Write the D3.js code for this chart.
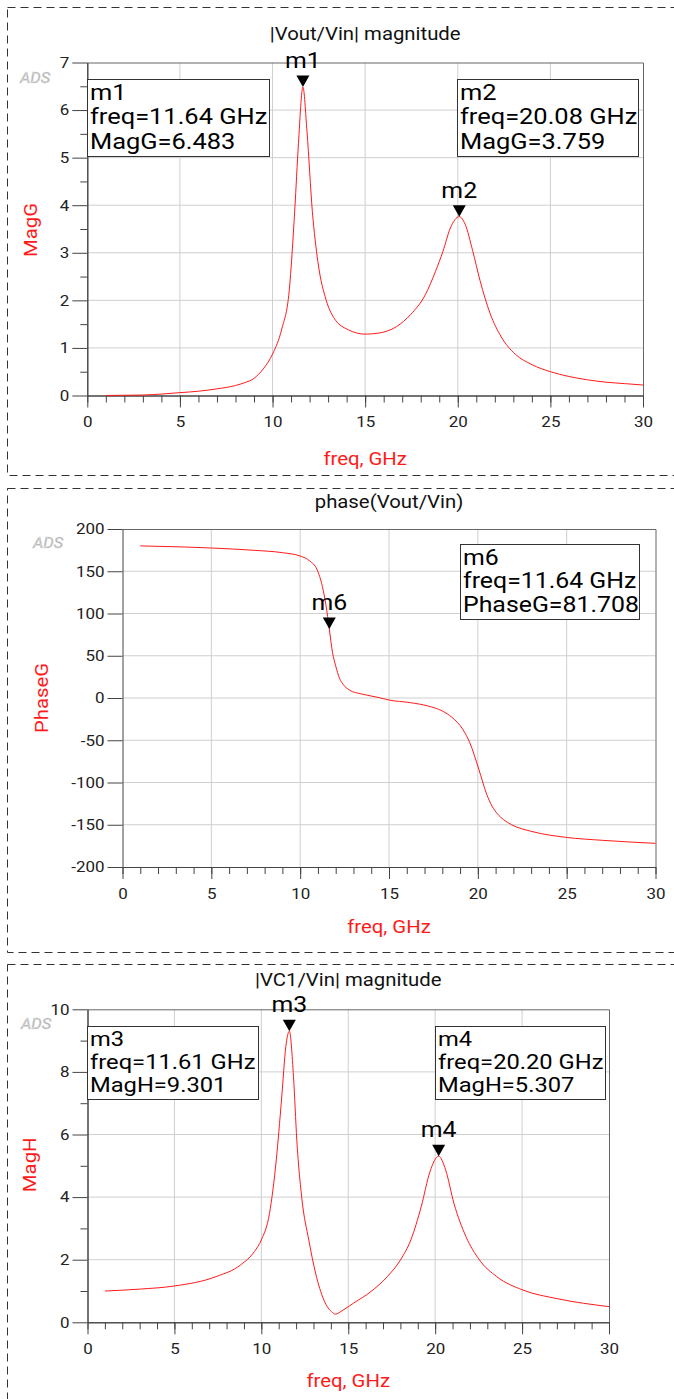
<!DOCTYPE html>
<html>
<head>
<meta charset="utf-8">
<script src="https://cdn.jsdelivr.net/npm/d3@7"></script>
<style>
  body { margin: 0; background: #fff; }
  svg { display: block; font-family: Roboto, sans-serif; }
</style>
</head>
<body>
<svg id="chart" width="674" height="1399"></svg>
<script>
// ---- data ----
// |Vout/Vin| magnitude
const freqG = [1, 2, 3, 4, 5, 6, 7, 8, 8.5, 9, 9.5, 10, 10.5, 10.9, 11.2, 11.4, 11.64, 11.86, 12.15, 12.45, 12.9, 13.3, 14.1, 15.0, 15.7, 16.7, 17.45, 18.25, 18.8, 19.2, 19.6, 20.08, 20.4, 20.8, 21.2, 21.75, 22.35, 23.1, 24, 25, 26, 27, 28, 29, 30];
const magG = [0.0, 0.005, 0.01, 0.03, 0.06, 0.09, 0.14, 0.21, 0.27, 0.36, 0.56, 0.87, 1.40, 2.20, 3.90, 5.30, 6.483, 5.55, 3.87, 2.81, 2.00, 1.64, 1.38, 1.29, 1.31, 1.45, 1.70, 2.12, 2.61, 3.03, 3.52, 3.759, 3.60, 3.05, 2.42, 1.72, 1.23, 0.87, 0.65, 0.50, 0.40, 0.33, 0.28, 0.25, 0.22];

// phase(Vout/Vin)
const freqP = [1, 3.5, 5, 7.4, 9, 10, 10.55, 10.95, 11.25, 11.45, 11.64, 11.82, 12.0, 12.2, 12.35, 12.5, 12.7, 12.95, 13.3, 14.45, 15, 16.2, 17.2, 18, 18.55, 19.15, 19.55, 20.05, 20.5, 20.8, 21.1, 21.45, 21.9, 23.05, 25, 27, 30];
const phaseG = [180, 178.7, 177.5, 174.8, 172, 168, 162, 152, 132, 110, 81.708, 54, 38, 24, 18, 14, 10.5, 7.5, 5.5, 0.4, -2.4, -5.5, -9.5, -15.4, -23, -37, -53, -84, -114, -128, -137, -144, -150, -158, -165, -168.4, -172];

// |VC1/Vin| magnitude
const freqH = [1, 3, 5, 7.4, 8.8, 9.6, 10, 10.47, 10.86, 11.16, 11.41, 11.61, 11.85, 12.04, 12.34, 12.73, 13.12, 13.6, 14.1, 14.25, 14.7, 15.3, 16.3, 17.25, 18, 18.6, 19.2, 19.7, 20.2, 20.6, 21.08, 21.77, 22.55, 23.54, 25.05, 27.07, 30];
const magH = [1.0, 1.06, 1.16, 1.46, 1.83, 2.26, 2.63, 3.48, 5.19, 7.10, 8.81, 9.301, 7.85, 5.83, 3.91, 2.63, 1.57, 0.71, 0.31, 0.26, 0.39, 0.61, 0.98, 1.46, 1.99, 2.63, 3.70, 4.81, 5.307, 4.87, 3.80, 2.74, 1.99, 1.46, 1.03, 0.75, 0.50];

// ticks
const freqTicks = [0, 5, 10, 15, 20, 25, 30];
const freqMinor = d3.range(0, 31, 1);
const magGTicks = [0, 1, 2, 3, 4, 5, 6, 7];
const magGMinor = d3.range(0.5, 7, 1);
const phaseTicks = [-200, -150, -100, -50, 0, 50, 100, 150, 200];
const magHTicks = [0, 2, 4, 6, 8, 10];
const magHMinor = [1, 3, 5, 7, 9];

// markers
const markersG = [{name: "m1", freq: 11.64, val: 6.483, label: "MagG=6.483", fl: "freq=11.64 GHz"},
                  {name: "m2", freq: 20.08, val: 3.759, label: "MagG=3.759", fl: "freq=20.08 GHz"}];
const markersP = [{name: "m6", freq: 11.64, val: 81.708, label: "PhaseG=81.708", fl: "freq=11.64 GHz"}];
const markersH = [{name: "m3", freq: 11.61, val: 9.301, label: "MagH=9.301", fl: "freq=11.61 GHz"},
                  {name: "m4", freq: 20.20, val: 5.307, label: "MagH=5.307", fl: "freq=20.20 GHz"}];

const SX = 1.13; // the ADS font is a bit wider than Roboto
const svg = d3.select("#chart");

function txt(g, x, y, s, size, opts = {}) {
  const rot = opts.rotate ? ` rotate(${opts.rotate})` : "";
  return g.append("text")
    .attr("transform", `translate(${x},${y})${rot} scale(${SX},1)`)
    .attr("text-anchor", opts.anchor || "start")
    .attr("font-size", size)
    .attr("fill", opts.fill || "#111")
    .text(s);
}

function stretchTicks(axisG) {
  axisG.selectAll(".tick text").each(function() {
    const t = d3.select(this);
    const x = +t.attr("x") || 0, y = +t.attr("y") || 0;
    t.attr("x", null).attr("y", null)
      .attr("transform", `translate(${x},${y}) scale(${SX},1)`);
  });
}

function panel(p) {
  const g = svg.append("g");

  g.append("rect")
    .attr("x", 7.5).attr("y", p.top + 0.5)
    .attr("width", 720).attr("height", p.height)
    .attr("fill", "none").attr("stroke", "#333")
    .attr("stroke-dasharray", "8,5");

  const x = d3.scaleLinear().domain([0, 30]).range([p.left, p.right]);
  const y = d3.scaleLinear().domain(p.yDomain).range([p.bottom, p.plotTop]);

  // grid
  g.append("g").selectAll("line")
    .data(freqTicks.slice(1, -1))
    .join("line")
    .attr("x1", d => x(d)).attr("x2", d => x(d))
    .attr("y1", p.plotTop).attr("y2", p.bottom)
    .attr("stroke", "#cfcfcf");
  g.append("g").selectAll("line")
    .data(p.yTicks.slice(1, -1))
    .join("line")
    .attr("x1", p.left).attr("x2", p.right)
    .attr("y1", d => y(d)).attr("y2", d => y(d))
    .attr("stroke", "#cfcfcf");

  // frame top / right
  g.append("path")
    .attr("d", `M${p.left},${p.plotTop + 0.5}H${p.right + 0.5}V${p.bottom}`)
    .attr("fill", "none").attr("stroke", "#666");

  // axes
  const fmt = d => String(d);
  g.append("g").attr("transform", `translate(0,${p.bottom})`)
    .call(d3.axisBottom(x).tickValues(freqMinor).tickSize(7).tickSizeOuter(0).tickFormat(""));
  const xAx = g.append("g").attr("transform", `translate(0,${p.bottom})`)
    .call(d3.axisBottom(x).tickValues(freqTicks).tickSize(12).tickSizeOuter(0).tickPadding(9).tickFormat(fmt));
  if (p.yMinor) {
    g.append("g").attr("transform", `translate(${p.left},0)`)
      .call(d3.axisLeft(y).tickValues(p.yMinor).tickSize(7).tickSizeOuter(0).tickFormat(""));
  }
  const yAx = g.append("g").attr("transform", `translate(${p.left},0)`)
    .call(d3.axisLeft(y).tickValues(p.yTicks).tickSize(15).tickSizeOuter(0).tickPadding(3).tickFormat(fmt));
  g.selectAll("g path.domain, g .tick line").attr("stroke", "#444");
  [xAx, yAx].forEach(a => {
    a.selectAll("text").attr("font-size", 15).attr("font-family", "Roboto, sans-serif").attr("fill", "#222");
    stretchTicks(a);
  });

  // curve
  const pts = p.fx.map((f, i) => [f, p.vy[i]]);
  g.append("path")
    .datum(pts)
    .attr("fill", "none").attr("stroke", "#ff1a1a").attr("stroke-width", 1)
    .attr("d", d3.line().x(d => x(d[0])).y(d => y(d[1])).curve(d3.curveMonotoneX));

  // text
  txt(g, (p.left + p.right) / 2, p.titleY, p.title, 18, {anchor: "middle"});
  txt(g, (p.left + p.right) / 2, p.xLabelY, "freq, GHz", 18, {anchor: "middle", fill: "#ff1a1a"});
  txt(g, p.yLabelX, (p.plotTop + p.bottom) / 2 + p.yLabelDy, p.yLabel, 18, {anchor: "middle", fill: "#ff1a1a", rotate: -90});
  txt(g, p.adsX, p.adsY, "ADS", 14.5, {fill: "#a8a8a8"})
    .attr("font-style", "italic")
    .attr("stroke", "#d8d8d8").attr("stroke-width", 0.5);

  // markers
  p.markers.forEach((m, i) => {
    const mx = x(m.freq), my = y(m.val);
    g.append("path")
      .attr("d", `M${mx - 6.5},${my - 11.5}H${mx + 6.5}L${mx},${my}Z`)
      .attr("fill", "#000");
    txt(g, mx, my - 19, m.name, 22, {anchor: "middle", fill: "#000"});

    const b = p.boxes[i];
    g.append("rect")
      .attr("x", b.x + 0.5).attr("y", b.y + 0.5)
      .attr("width", b.w).attr("height", b.h)
      .attr("fill", "#fff").attr("stroke", "#333");
    [m.name, m.fl, m.label].forEach((s, k) => {
      txt(g, b.x + 3, b.y + p.firstLine + k * p.lineH, s, p.boxFont, {fill: "#000"});
    });
  });
}

panel({
  top: 7, height: 468,
  left: 87.3, right: 643, plotTop: 62.5, bottom: 395.5,
  yDomain: [0, 7], yTicks: magGTicks, yMinor: magGMinor,
  fx: freqG, vy: magG,
  title: "|Vout/Vin| magnitude", titleY: 39.5,
  xLabelY: 465, yLabel: "MagG", yLabelX: 37, yLabelDy: 1,
  adsX: 20, adsY: 83,
  markers: markersG, lineH: 24.5, firstLine: 20.5, boxFont: 22.5,
  boxes: [{x: 87, y: 79, w: 182, h: 77}, {x: 457, y: 79, w: 181, h: 77}]
});

panel({
  top: 488, height: 464,
  left: 122.5, right: 655.5, plotTop: 529, bottom: 867,
  yDomain: [-200, 200], yTicks: phaseTicks, yMinor: null,
  fx: freqP, vy: phaseG,
  title: "phase(Vout/Vin)", titleY: 507.5,
  xLabelY: 933, yLabel: "PhaseG", yLabelX: 48, yLabelDy: 0,
  adsX: 33, adsY: 548,
  markers: markersP, lineH: 23.7, firstLine: 20.5, boxFont: 22,
  boxes: [{x: 460, y: 544, w: 179, h: 75}]
});

panel({
  top: 964, height: 460,
  left: 87.5, right: 609, plotTop: 1009.3, bottom: 1322.3,
  yDomain: [0, 10], yTicks: magHTicks, yMinor: magHMinor,
  fx: freqH, vy: magH,
  title: "|VC1/Vin| magnitude", titleY: 985.5,
  xLabelY: 1387, yLabel: "MagH", yLabelX: 36, yLabelDy: -1,
  adsX: 21, adsY: 1029,
  markers: markersH, lineH: 23.4, firstLine: 19.5, boxFont: 21,
  boxes: [{x: 87, y: 1026, w: 171, h: 73}, {x: 435, y: 1026, w: 170, h: 73}]
});
</script>
</body>
</html>
